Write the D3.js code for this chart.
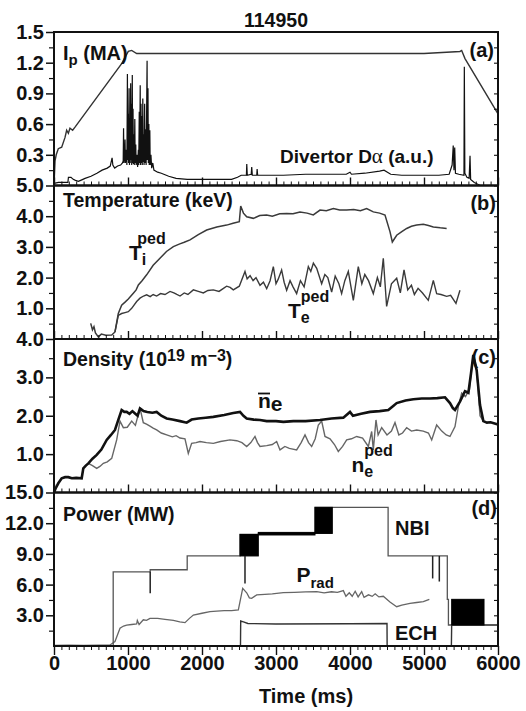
<!DOCTYPE html>
<html>
<head>
<meta charset="utf-8">
<script src="https://cdn.jsdelivr.net/npm/d3@7"></script>
<style>
  html, body { margin: 0; padding: 0; background: #fff; }
  svg { display: block; }
  text { font-family: "Liberation Sans", Arial, Helvetica, sans-serif; font-weight: bold; fill: #111; }
</style>
</head>
<body>
<svg id="chart" width="526" height="711"></svg>
<script>
// ---- Shot 114950: time traces (ms) ----
const shot = "114950";
const xTickLabels = [0, 1000, 2000, 3000, 4000, 5000, 6000];

// panel y domains and tick values
const yDomains = [[0, 1.5], [0, 5], [0, 4], [0, 15]];
const yMajor = [[0.3, 0.6, 0.9, 1.2, 1.5], [1, 2, 3, 4, 5], [1, 2, 3, 4], [3, 6, 9, 12, 15]];
const yMinor = [[0.15, 0.45, 0.75, 1.05, 1.35], [0.5, 1.5, 2.5, 3.5, 4.5], [0.5, 1.5, 2.5, 3.5], [1.5, 4.5, 7.5, 10.5, 13.5]];

// (a) plasma current, MA
const ip = [[0,0],[14,0.24],[30,0.3],[58,0.36],[104,0.375],[149,0.47],[171,0.54],[194,0.51],[216,0.56],[252,0.54],[284,0.57],
  [914,1.19],[1004,1.31],[1050,1.32],[1117,1.29],[2000,1.29],[3000,1.29],[4000,1.29],[5000,1.29],[5486,1.31],[5509,1.32],[5554,1.24],[6000,0.70]];

// (a) divertor D-alpha, a.u.
const dalpha = [[0,0.02],[60,0.03],[150,0.03],[188,0.03],[195,0.08],[230,0.08],[260,0.06],[290,0.05],[330,0.04],[360,0.05],[420,0.07],
  [500,0.09],[580,0.12],[650,0.15],[720,0.17],[760,0.19],[785,0.27],[795,0.2],[820,0.17],[860,0.19],[900,0.2],[925,0.22],
  [935,0.24],[940,0.56],[945,0.22],[955,0.3],[960,0.45],[965,0.22],[975,0.35],[985,0.2],[992,1.09],[997,0.25],[1003,0.7],[1008,0.22],
  [1015,0.95],[1020,0.2],[1025,0.6],[1030,0.22],[1036,1.0],[1040,0.25],[1046,0.8],[1050,0.2],[1058,1.08],[1062,0.22],[1068,0.75],
  [1073,0.21],[1080,0.5],[1085,0.2],[1092,0.65],[1097,0.22],[1105,0.4],[1110,0.2],[1120,0.3],[1130,0.18],[1140,0.35],[1145,0.2],
  [1152,0.72],[1157,0.22],[1165,0.98],[1170,0.2],[1176,0.8],[1181,0.22],[1188,0.68],[1193,0.2],[1200,0.85],[1205,0.23],[1212,0.5],
  [1217,0.2],[1225,0.8],[1230,0.22],[1240,0.55],[1245,0.2],[1258,1.22],[1262,0.25],[1270,0.95],[1275,0.22],[1282,0.6],[1287,0.2],
  [1295,0.54],[1300,0.2],[1310,0.3],[1320,0.17],[1335,0.22],[1350,0.15],[1400,0.13],[1450,0.12],[1550,0.09],[1650,0.07],[1800,0.06],
  [2000,0.06],[2200,0.06],[2400,0.06],[2480,0.08],[2530,0.1],[2600,0.1],[2605,0.21],[2612,0.1],[2665,0.11],[2672,0.18],[2680,0.1],
  [2740,0.1],[2745,0.16],[2752,0.1],[2900,0.1],[3100,0.1],[3400,0.11],[3700,0.11],[3950,0.11],[4000,0.13],[4020,0.11],[4200,0.12],
  [4400,0.14],[4460,0.15],[4550,0.11],[4700,0.1],[5000,0.1],[5200,0.1],[5340,0.11],[5380,0.2],[5395,0.39],[5405,0.15],[5415,0.37],
  [5425,0.12],[5470,0.11],[5540,0.1],[5545,1.16],[5552,0.12],[5580,0.08],[5610,0.07],[5622,0.29],[5630,0.06],[5680,0.03],[5760,0.0],[6000,0.0]];

// (b) pedestal ion temperature, keV
const tiPed = [[496,0.51],[520,0.3],[540,0.4],[560,0.2],[599,0.07],[640,0.16],[700,0.12],[780,0.13],[824,0.23],[869,0.83],[914,1.1],
  [960,1.2],[1004,1.3],[1072,1.49],[1110,1.6],[1140,1.76],[1190,1.9],[1252,2.09],[1340,2.4],[1432,2.63],[1520,2.85],[1613,3.01],
  [1700,3.1],[1760,3.15],[1838,3.23],[1950,3.4],[2063,3.55],[2200,3.65],[2333,3.71],[2420,3.77],[2504,3.82],[2523,4.33],[2560,4.1],
  [2604,3.98],[2694,3.93],[2780,4.02],[2874,4.04],[2950,4.0],[3050,4.08],[3144,4.09],[3230,4.08],[3324,4.14],[3420,4.1],[3504,4.04],
  [3595,4.2],[3680,4.18],[3775,4.25],[3860,4.2],[3955,4.2],[4050,4.22],[4140,4.18],[4225,4.25],[4315,4.14],[4400,4.1],[4473,4.04],
  [4541,3.49],[4572,3.16],[4631,3.38],[4700,3.5],[4766,3.6],[4830,3.67],[4901,3.71],[4991,3.74],[5060,3.7],[5126,3.65],[5220,3.62],[5306,3.6]];

// (b) pedestal electron temperature, keV
const tePed = [[824,0.23],[869,0.77],[914,0.83],[960,0.86],[1004,0.89],[1050,1.0],[1117,1.22],[1162,1.33],[1210,1.4],[1252,1.44],
  [1300,1.38],[1340,1.45],[1387,1.4],[1440,1.48],[1500,1.45],[1568,1.55],[1620,1.5],[1660,1.45],[1703,1.4],[1760,1.5],[1810,1.45],
  [1883,1.6],[1950,1.55],[2018,1.5],[2080,1.58],[2153,1.6],[2230,1.55],[2290,1.65],[2333,1.72],[2380,1.68],[2423,1.6],[2504,1.72],
  [2581,2.2],[2610,1.96],[2650,2.06],[2690,1.9],[2730,2.0],[2784,1.75],[2830,1.85],[2874,1.64],[2920,1.9],[2964,2.36],[3000,1.8],
  [3030,1.95],[3076,2.25],[3110,1.85],[3144,1.59],[3190,1.9],[3230,1.7],[3279,1.48],[3330,1.9],[3380,1.7],[3437,2.36],[3470,2.2],
  [3505,2.47],[3550,2.3],[3617,1.8],[3660,2.1],[3700,2.0],[3752,1.53],[3800,2.05],[3850,1.8],[3887,1.48],[3930,1.9],[3977,2.2],
  [4045,1.26],[4112,2.36],[4160,1.8],[4200,2.1],[4250,1.9],[4315,1.48],[4370,2.0],[4410,1.7],[4450,2.63],[4495,1.06],[4560,1.8],
  [4631,1.98],[4680,1.5],[4730,2.25],[4780,1.6],[4830,1.75],[4870,1.45],[4920,1.65],[4980,1.5],[5058,1.26],[5126,1.91],[5171,1.48],
  [5230,1.45],[5306,1.39],[5360,1.42],[5432,1.16],[5486,1.59]];

// (c) line-averaged density, 10^19 m^-3
const neBar = [[0,0],[20,0.1],[58,0.24],[104,0.37],[150,0.4],[194,0.4],[240,0.37],[300,0.38],[374,0.37],[396,0.63],[430,0.7],
  [464,0.76],[520,0.88],[577,0.98],[640,1.12],[712,1.37],[770,1.5],[824,1.63],[870,1.9],[914,2.15],[950,2.1],[982,2.1],[1020,2.05],
  [1060,2.12],[1095,2.06],[1130,2.0],[1162,2.19],[1210,2.12],[1260,2.1],[1330,2.08],[1387,2.1],[1450,2.0],[1523,1.93],[1600,1.9],
  [1703,1.86],[1793,1.82],[1860,1.9],[1950,1.93],[2050,1.95],[2153,1.97],[2300,2.02],[2423,2.07],[2514,2.1],[2560,2.0],[2604,1.93],
  [2700,1.9],[2784,1.89],[2874,1.86],[3000,1.86],[3100,1.84],[3234,1.86],[3400,1.86],[3595,1.89],[3750,1.93],[3910,1.95],[4000,2.1],
  [4040,2.0],[4150,2.05],[4270,2.1],[4400,2.12],[4518,2.15],[4580,2.25],[4631,2.33],[4750,2.4],[4856,2.43],[4970,2.45],[5081,2.45],
  [5180,2.46],[5284,2.48],[5351,2.33],[5390,2.2],[5419,2.15],[5486,2.37],[5554,2.64],[5600,2.6],[5635,3.1],[5666,3.58],[5712,3.18],
  [5757,2.28],[5802,1.86],[5850,1.82],[5900,1.83],[6000,1.77]];

// (c) pedestal density, 10^19 m^-3
const nePed = [[464,0.76],[520,0.7],[577,0.63],[620,0.68],[667,0.76],[720,0.8],[780,0.89],[847,1.37],[892,1.86],[937,1.69],[990,1.7],
  [1050,1.86],[1100,1.75],[1162,2.2],[1207,1.82],[1250,1.78],[1297,1.73],[1340,1.68],[1387,1.63],[1450,1.55],[1523,1.5],[1600,1.45],
  [1650,1.48],[1703,1.42],[1770,1.4],[1815,1.02],[1860,1.28],[1920,1.3],[1973,1.33],[2060,1.3],[2153,1.28],[2250,1.33],[2378,1.37],
  [2470,1.35],[2540,1.3],[2604,1.2],[2660,1.3],[2716,1.46],[2750,1.3],[2784,1.2],[2874,1.22],[2950,1.25],[3009,1.33],[3054,1.11],
  [3120,1.2],[3180,1.15],[3279,1.11],[3340,1.3],[3392,1.5],[3440,1.3],[3482,1.2],[3530,1.4],[3572,1.76],[3617,1.86],[3662,1.46],
  [3730,1.4],[3790,1.25],[3842,1.07],[3900,1.2],[3955,1.37],[4020,1.4],[4090,1.46],[4170,1.42],[4248,1.2],[4293,1.59],[4315,1.11],
  [4351,1.89],[4380,1.5],[4428,1.69],[4500,1.5],[4560,1.6],[4608,1.82],[4660,1.5],[4710,1.55],[4766,1.69],[4830,1.6],[4901,1.63],
  [4990,1.6],[5060,1.55],[5104,1.37],[5171,1.76],[5240,1.6],[5300,1.5],[5351,1.46],[5419,1.72],[5464,2.24],[5509,2.59],[5560,2.5],
  [5613,2.68],[5666,3.6],[5712,3.2],[5757,2.0],[5790,1.9]];

// (d) radiated power, MW
const pRad = [[0,0.05],[200,0.08],[400,0.05],[600,0.08],[757,0.1],[824,0.43],[892,1.73],[940,1.95],[982,2.05],[1050,2.1],[1117,2.15],
  [1126,2.5],[1150,2.1],[1207,2.56],[1250,2.5],[1297,2.7],[1400,2.7],[1500,2.6],[1613,2.5],[1700,2.35],[1770,2.28],[1830,2.7],
  [1883,3.03],[2000,3.2],[2108,3.36],[2200,3.4],[2300,3.45],[2400,3.45],[2491,3.52],[2550,5.64],[2604,5.2],[2640,4.7],[2671,4.66],
  [2739,4.99],[2850,5.05],[2950,5.1],[3099,5.21],[3250,5.25],[3400,5.28],[3550,5.31],[3650,5.2],[3750,5.3],[3830,5.25],[3910,5.41],
  [3945,4.86],[3990,5.2],[4030,4.86],[4070,5.35],[4110,4.8],[4158,5.31],[4190,4.75],[4250,5.0],[4300,4.85],[4340,5.1],[4390,4.8],
  [4450,4.86],[4540,4.3],[4631,3.84],[4700,4.0],[4811,4.17],[4900,4.25],[4991,4.33],[5072,4.56]];

// (d) neutral beam power (step levels), MW
const nbiT = [0, 800, 1300, 1800, 2514, 2761, 3527, 4515, 5315, 5330, 6000];
const nbiP = [0, 7.25, 7.45, 8.8, 10.9, 11.0, 13.55, 8.8, 4.56, 2.05, 2.05];
// beam modulation blocks: start, end, low, high (MW)
const nbiBlockT0 = [2514, 2761, 3527, 5374];
const nbiBlockT1 = [2761, 3527, 3761, 5811];
const nbiBlockLo = [8.8, 10.85, 11.0, 2.05];
const nbiBlockHi = [10.9, 11.1, 13.55, 4.56];
// short beam notches: time, level before notch, lowest value
const notchT = [1300, 2581, 5117, 5207];
const notchHi = [7.25, 8.8, 8.8, 8.8];
const notchLo = [5.15, 6.1, 6.6, 6.3];

// (d) electron cyclotron heating power, MW
const ech = [[0,0],[2520,0],[2523,2.44],[2560,2.35],[2620,2.2],[3000,2.15],[4000,2.18],[4500,2.2],[4502,0],[5370,0],[5374,2.05],[6000,2.05]];

// ---- layout ----
const svg = d3.select("#chart");
const x = d3.scaleLinear().domain([0, 6000]).range([54, 498]);
const top0 = 32, ph = 153.5;
const ys = yDomains.map((dom, i) => d3.scaleLinear().domain(dom).range([top0 + (i + 1) * ph, top0 + i * ph]));

const line = y => d3.line().x(d => x(d[0])).y(d => y(d[1]));

function axes(i) {
  const y = ys[i];
  const g = svg.append("g");
  const yTop = y.range()[1], yBot = y.range()[0];
  // left axis, major labelled ticks
  g.append("g").attr("transform", "translate(54,0)")
    .call(d3.axisLeft(y).tickValues(yMajor[i]).tickSize(8).tickPadding(2).tickFormat(d3.format(".1f")))
    .call(s => s.select(".domain").remove())
    .call(s => s.selectAll("line").attr("stroke", "#111").attr("stroke-width", 1.5))
    .call(s => s.selectAll("text").attr("font-size", 20).attr("font-family", null).attr("fill", "#111"));
  g.append("g").attr("transform", "translate(54,0)")
    .call(d3.axisLeft(y).tickValues(yMinor[i]).tickSize(5).tickFormat(""))
    .call(s => s.select(".domain").remove())
    .call(s => s.selectAll("line").attr("stroke", "#111").attr("stroke-width", 1.2));
  // right axis, inward ticks
  g.append("g").attr("transform", "translate(498,0)")
    .call(d3.axisRight(y).tickValues(yMajor[i].concat(yMinor[i])).tickSize(-4).tickFormat(""))
    .call(s => s.select(".domain").remove())
    .call(s => s.selectAll("line").attr("stroke", "#111").attr("stroke-width", 1.1));
  // bottom axis
  const last = i === 3;
  const minorT = d3.range(100, 6000, 100).filter(t => t % 1000 !== 0);
  g.append("g").attr("transform", `translate(0,${yBot})`)
    .call(d3.axisBottom(x).tickValues(xTickLabels).tickSize(last ? 9 : -8).tickPadding(last ? 1 : 3)
      .tickFormat(last ? d3.format("d") : ""))
    .call(s => s.select(".domain").remove())
    .call(s => s.selectAll("line").attr("stroke", "#111").attr("stroke-width", 1.4))
    .call(s => s.selectAll("text").attr("font-size", 20).attr("font-family", null).attr("fill", "#111"));
  g.append("g").attr("transform", `translate(0,${yBot})`)
    .call(d3.axisBottom(x).tickValues(minorT).tickSize(last ? 4 : -4).tickFormat(""))
    .call(s => s.select(".domain").remove())
    .call(s => s.selectAll("line").attr("stroke", "#111").attr("stroke-width", 1));
  // frame
  g.append("rect").attr("x", 54).attr("y", yTop).attr("width", 444).attr("height", yBot - yTop)
    .attr("fill", "none").attr("stroke", "#111").attr("stroke-width", 2);
}

// ---- panel (a) ----
svg.append("path").datum(dalpha).attr("d", line(ys[0])).attr("fill", "none").attr("stroke", "#111").attr("stroke-width", 1.2);
svg.append("path").datum(ip).attr("d", line(ys[0])).attr("fill", "none").attr("stroke", "#333").attr("stroke-width", 1.4);

// ---- panel (b) ----
svg.append("path").datum(tiPed).attr("d", line(ys[1])).attr("fill", "none").attr("stroke", "#3a3a3a").attr("stroke-width", 1.5);
svg.append("path").datum(tePed).attr("d", line(ys[1])).attr("fill", "none").attr("stroke", "#3a3a3a").attr("stroke-width", 1.4);

// ---- panel (c) ----
svg.append("path").datum(nePed).attr("d", line(ys[2])).attr("fill", "none").attr("stroke", "#666").attr("stroke-width", 1.4);
svg.append("path").datum(neBar).attr("d", line(ys[2])).attr("fill", "none").attr("stroke", "#111").attr("stroke-width", 2.6);

// ---- panel (d) ----
const yd = ys[3];
svg.append("path").datum(pRad).attr("d", line(yd)).attr("fill", "none").attr("stroke", "#666").attr("stroke-width", 1.3);
svg.append("path").datum(ech).attr("d", line(yd)).attr("fill", "none").attr("stroke", "#333").attr("stroke-width", 1.4);
svg.append("path").datum(nbiT.map((t, k) => [t, nbiP[k]]))
  .attr("d", d3.line().x(d => x(d[0])).y(d => yd(d[1])).curve(d3.curveStepAfter))
  .attr("fill", "none").attr("stroke", "#555").attr("stroke-width", 1.3);
svg.append("g").selectAll("rect").data(nbiBlockT0.map((t, k) => k)).join("rect")
  .attr("x", k => x(nbiBlockT0[k])).attr("width", k => x(nbiBlockT1[k]) - x(nbiBlockT0[k]))
  .attr("y", k => yd(nbiBlockHi[k])).attr("height", k => yd(nbiBlockLo[k]) - yd(nbiBlockHi[k]))
  .attr("fill", "#000").attr("stroke", "#000").attr("stroke-width", 1);
svg.append("g").selectAll("line").data(notchT.map((t, k) => k)).join("line")
  .attr("x1", k => x(notchT[k])).attr("x2", k => x(notchT[k]))
  .attr("y1", k => yd(notchHi[k])).attr("y2", k => yd(notchLo[k]))
  .attr("stroke", "#222").attr("stroke-width", 1.5);

[0, 1, 2, 3].forEach(axes);

// ---- text ----
function txt(xp, yp, s, size, anchor) {
  return svg.append("text").attr("x", xp).attr("y", yp).attr("font-size", size || 20)
    .attr("text-anchor", anchor || "start").text(s);
}
txt(276, 27, shot, 19.5, "middle");
txt(306, 703, "Time (ms)", 20, "middle");

// (a)
const tIp = svg.append("text").attr("x", 63).attr("y", 60).attr("font-size", 20);
tIp.append("tspan").text("I");
tIp.append("tspan").attr("font-size", 15).attr("dy", 5).text("p");
tIp.append("tspan").attr("dy", -5).text(" (MA)");
txt(494, 57, "(a)", 20, "end");
const tDa = svg.append("text").attr("x", 280).attr("y", 163).attr("font-size", 19);
tDa.append("tspan").text("Divertor D");
tDa.append("tspan").attr("font-family", "'Liberation Serif', 'DejaVu Serif', serif").attr("font-weight", "normal").attr("font-size", 21).text("\u03b1");
tDa.append("tspan").text(" (a.u.)");

// (b): T_i^ped and T_e^ped, each built as one text with sub/superscript tspans
function subSup(xp, yp, base, sub, sup) {
  const t = svg.append("text").attr("x", xp).attr("y", yp).attr("font-size", 21);
  t.append("tspan").text(base);
  const subSpan = t.append("tspan").attr("font-size", 16).attr("dy", 5).text(sub);
  t.append("tspan").attr("font-size", 16).attr("dy", -21).attr("dx", -9).text(sup);
  return t;
}
txt(63, 207, "Temperature (keV)", 19.5);
txt(496, 210, "(b)", 20, "end");
subSup(129, 260, "T", "i", "ped");
subSup(288, 318, "T", "e", "ped");

// (c)
const tDen = svg.append("text").attr("x", 63).attr("y", 366).attr("font-size", 19.5);
tDen.append("tspan").text("Density (10");
tDen.append("tspan").attr("font-size", 16).attr("dy", -5).text("19");
tDen.append("tspan").attr("dy", 5).text(" m");
tDen.append("tspan").attr("font-size", 16).attr("dy", -5).text("\u22123");
tDen.append("tspan").attr("dy", 5).text(")");
txt(496, 364, "(c)", 20, "end");
const tNe = svg.append("text").attr("x", 258).attr("y", 408).attr("font-size", 21);
tNe.append("tspan").text("n");
tNe.append("tspan").attr("dy", 3).text("e");
svg.append("line").attr("x1", 258).attr("x2", 270).attr("y1", 393.5).attr("y2", 393.5).attr("stroke", "#111").attr("stroke-width", 1.8);
subSup(351.5, 472, "n", "e", "ped");

// (d)
txt(63, 521, "Power (MW)", 19.5);
txt(497, 515, "(d)", 20, "end");
txt(395, 535, "NBI", 20);
const tPr = svg.append("text").attr("x", 296.5).attr("y", 582).attr("font-size", 21);
tPr.append("tspan").text("P");
tPr.append("tspan").attr("font-size", 15).attr("dy", 6).text("rad");
txt(395, 640, "ECH", 20);
</script>
</body>
</html>
